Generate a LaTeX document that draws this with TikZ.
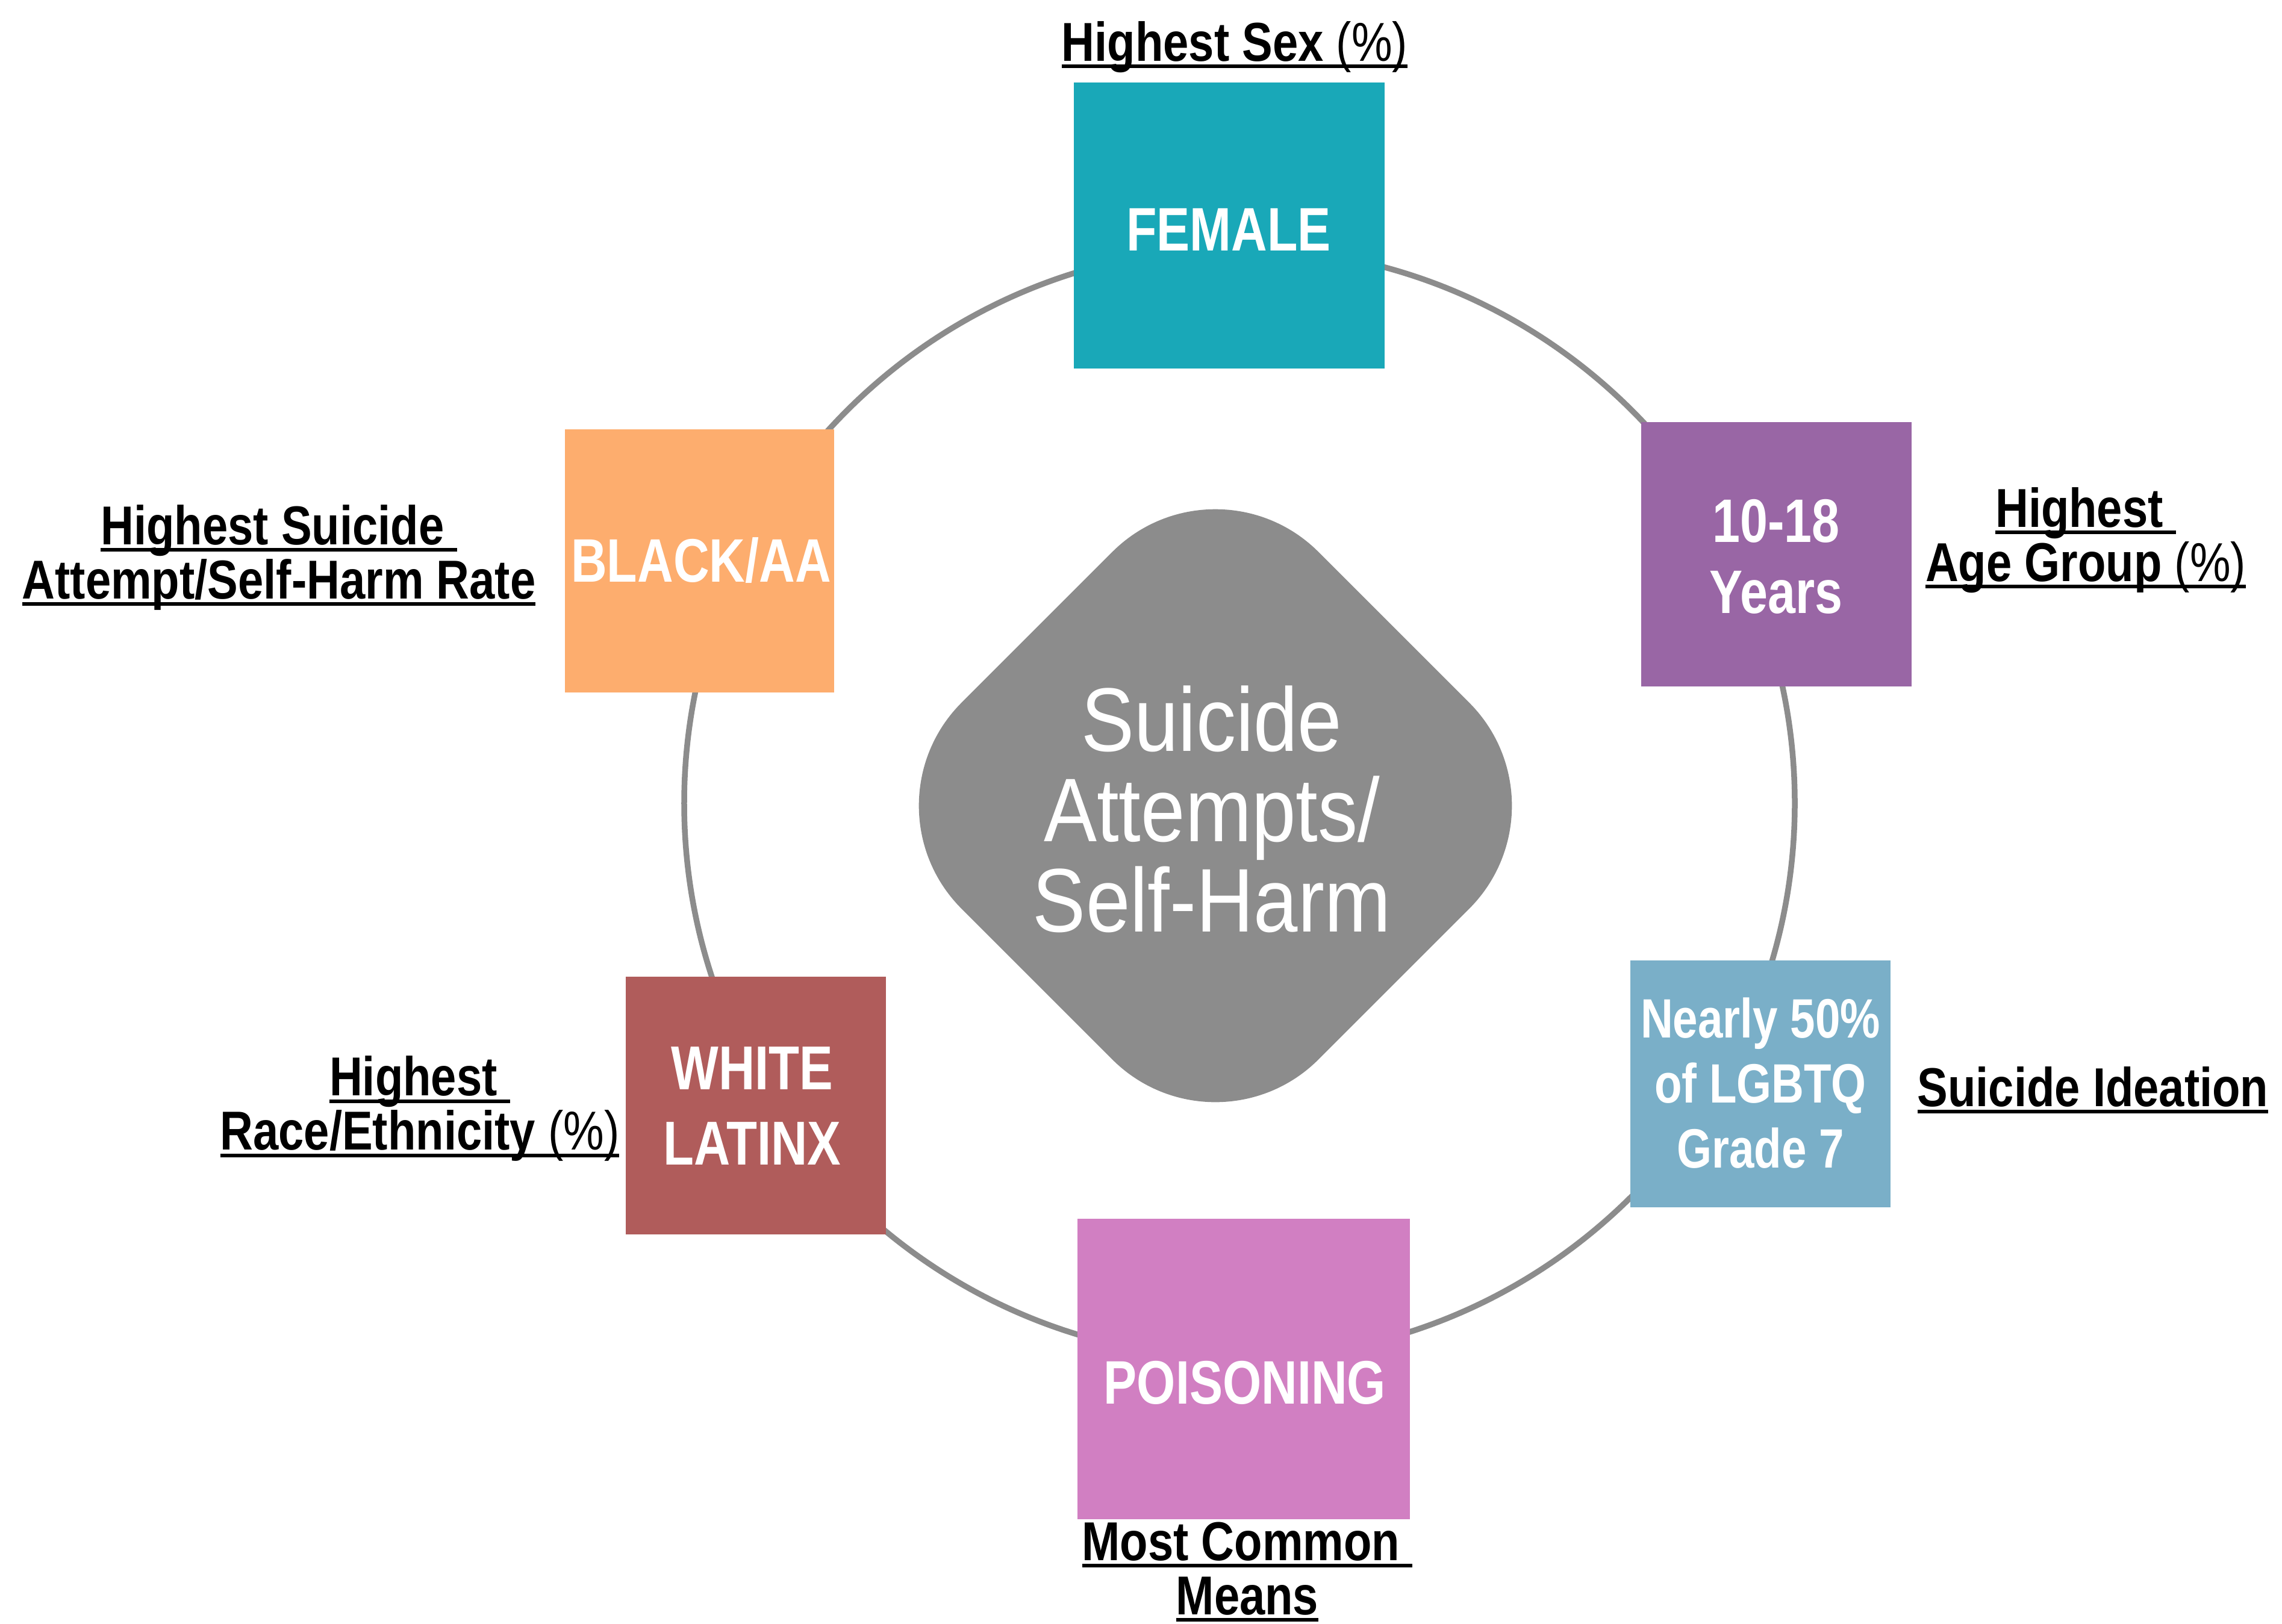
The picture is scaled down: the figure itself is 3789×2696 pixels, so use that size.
\documentclass[tikz,border=0pt]{standalone}
\usepackage{fontspec}
\setmainfont{Liberation Sans}[FakeStretch=0.81]
\newfontfamily\lblfont{Liberation Sans}[FakeStretch=0.835]
\newfontfamily\hubfont{Liberation Sans}[FakeStretch=0.88]
\definecolor{cFemale}{HTML}{19A8B8}
\definecolor{cAge}{HTML}{9966A5}
\definecolor{cLgbtq}{HTML}{7AAFC8}
\definecolor{cPoison}{HTML}{D17FC2}
\definecolor{cWhite}{HTML}{B05C5B}
\definecolor{cBlack}{HTML}{FDAD6E}
\definecolor{cGray}{HTML}{8C8C8C}
\newcommand\sline[1]{\smash{#1}\rule[-6pt]{0pt}{12pt}}
\newcommand\ulx[1]{\setbox0=\hbox{#1}\rlap{\rule[-2.4pt]{\wd0}{1.2pt}}\box0}
\newcommand\pct{{\mdseries(\%)}}
\begin{document}
\begin{tikzpicture}[x=0.2pt,y=-0.2pt,
  box/.style={rectangle, inner sep=0pt, outer sep=0pt, draw=none},
  boxtext/.style={text=white, font=\fontsize{20.4}{23.6}\selectfont\bfseries, align=center, inner sep=0pt},
  lbl/.style={text=black, font=\lblfont\fontsize{18.2}{18}\selectfont\bfseries, align=center, inner sep=0pt},
  hub/.style={rectangle, fill=cGray, rotate=45, minimum size=167.6pt, rounded corners=48.4pt, inner sep=0pt},
  hubtext/.style={text=white, font=\hubfont\fontsize{30}{30}\selectfont, align=center, inner sep=0pt},
  ring/.style={circle, draw=cGray, line width=1.9pt, minimum size=368.8pt, inner sep=0pt}
]
\useasboundingbox[fill=white] (0,0) rectangle (3789,2696);
% ring
\node[ring] (ring) at (2058,1334) {};
% boxes
\node[box, fill=cFemale, minimum width=103.2pt, minimum height=95pt] (female) at (2041,374.5) {};
\node[box, fill=cAge, minimum width=89.8pt, minimum height=87.8pt] (age) at (2949.5,920.5) {};
\node[box, fill=cLgbtq, minimum width=86.4pt, minimum height=82pt] (lgbtq) at (2923,1800) {};
\node[box, fill=cPoison, minimum width=110.4pt, minimum height=99.8pt] (poison) at (2065,2273.5) {};
\node[box, fill=cWhite, minimum width=86.4pt, minimum height=85.6pt] (white) at (1255,1836) {};
\node[box, fill=cBlack, minimum width=89.4pt, minimum height=87.4pt] (black) at (1161.5,931.5) {};
% box texts
\node[boxtext] (tFemale) at (2040,416) {\sline{FEMALE}};
\node[boxtext] (tAge) at (2949,959) {\sline{10-18}\\\sline{Years}};
\node[boxtext, font=\fontsize{18.4}{21.6}\selectfont\bfseries] (tLgbtq) at (2923,1831) {\sline{Nearly 50\%}\\\sline{of LGBTQ}\\\sline{Grade 7}};
\node[boxtext] (tPoison) at (2067,2331) {\sline{POISONING}};
\node[boxtext, font=\fontsize{20.6}{25}\selectfont\bfseries] (tWhite) at (1249,1871.5) {\sline{WHITE}\\\sline{LATINX}};
\node[boxtext] (tBlack) at (1164,966) {\sline{BLACK/AA}};
% hub
\node[hub] (hub) at (2018,1338) {};
\node[hubtext] (hubT) at (2012,1397.5) {\sline{Suicide}\\\sline{Attempts/}\\\sline{Self-Harm}};
% labels
\node[lbl] (lSex) at (2050,101) {\sline{\ulx{Highest Sex \pct}}};
\node[lbl] (lAge) at (3463,920) {\sline{\ulx{Highest\ }}\\\sline{\ulx{Age Group \pct}}};
\node[lbl] (lIde) at (3475,1837) {\sline{\ulx{Suicide Ideation}}};
\node[lbl] (lMeans) at (2071,2636) {\sline{\ulx{Most Common\ }}\\\sline{\ulx{Means}}};
\node[lbl] (lRace) at (697,1864.5) {\sline{\ulx{Highest\ }}\\\sline{\ulx{Race/Ethnicity \pct}}};
\node[lbl] (lAtt) at (463,949) {\sline{\ulx{Highest Suicide\ }}\\\sline{\ulx{Attempt/Self-Harm Rate}}};
\end{tikzpicture}
\end{document}
